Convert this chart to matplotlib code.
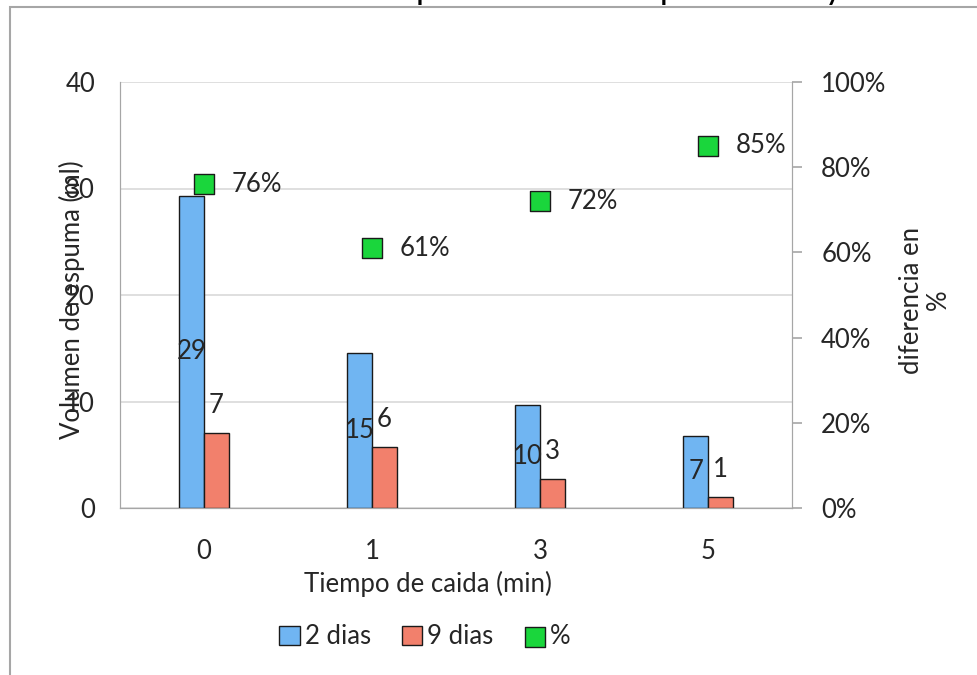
import matplotlib
matplotlib.use("Agg")
import matplotlib.pyplot as plt
from matplotlib.patches import Rectangle
from matplotlib.ticker import FuncFormatter

plt.rcParams['font.family'] = ['Lato', 'DejaVu Sans']

# datos del ensayo de espuma
tiempos = ['0', '1', '3', '5']
vol_2dias = [29.3, 14.6, 9.7, 6.8]
vol_9dias = [7.0, 5.7, 2.7, 1.0]
diferencia = [0.76, 0.61, 0.72, 0.85]

c_azul = '#70b5f2'
c_rojo = '#f2806c'
c_verde = '#1ad63c'
txt = '#262626'
fs = 18.5

W, H = 977, 675
fig = plt.figure(figsize=(W / 100, H / 100), dpi=100)
ax = fig.add_axes([120 / W, (H - 508) / H, 672 / W, 426 / H])
ax2 = ax.twinx()

# marco del grafico
fig.add_artist(Rectangle((10 / W, -0.1), 1.2, (H - 7) / H + 0.1, transform=fig.transFigure,
                         fill=False, ec='#a6a6a6', lw=1.5))
fig.text(862 / W, 1 + 1.5 / H, 'Variación del volumen de espuma en el tiempo de ensayo',
         ha='right', va='baseline', fontsize=25, color='black')

x = list(range(len(tiempos)))
bw = 0.146
b1 = ax.bar([i - bw / 2 for i in x], vol_2dias, bw, color=c_azul, edgecolor='#1a1a1a', lw=1, label='2 dias', zorder=3)
b2 = ax.bar([i + bw / 2 for i in x], vol_9dias, bw, color=c_rojo, edgecolor='#1a1a1a', lw=1, label='9 dias', zorder=3)

for r, v in zip(b1, vol_2dias):
    ax.text(r.get_x() + r.get_width() / 2, v / 2, '%.0f' % v, ha='center', va='center',
            fontsize=fs, color=txt, zorder=5)
for r, v in zip(b2, vol_9dias):
    ax.annotate('%.0f' % v, (r.get_x() + r.get_width() / 2, v), xytext=(0, 20), textcoords='offset points',
                ha='center', va='center', fontsize=fs, color=txt, zorder=5)

ax.set_ylim(0, 40)
ax.set_xlim(-0.5, len(tiempos) - 0.5)
ax.set_yticks([0, 10, 20, 30, 40])
ax.set_xticks(x)
ax.set_xticklabels(tiempos)
ax.grid(axis='y', color='#d9d9d9', lw=1.2, zorder=0)
ax.set_axisbelow(True)
ax.tick_params(axis='x', length=0, pad=22, labelsize=fs, labelcolor=txt)
ax.tick_params(axis='y', length=0, pad=18, labelsize=fs, labelcolor=txt)
for s in ['top']:
    ax.spines[s].set_visible(False)
    ax2.spines[s].set_visible(False)
for s in ['left', 'bottom', 'right']:
    ax.spines[s].set_color('#a6a6a6')
    ax2.spines[s].set_color('#a6a6a6')

ax2.scatter(x, diferencia, marker='s', s=200, color=c_verde, edgecolor='#1a1a1a', lw=1,
            label='%', zorder=4)
for i, d in zip(x, diferencia):
    ax2.annotate('%.0f%%' % (d * 100), (i, d), xytext=(20, 0), textcoords='offset points',
                 ha='left', va='center', fontsize=fs, color=txt)
ax2.set_ylim(0, 1)
ax2.set_yticks([0, 0.2, 0.4, 0.6, 0.8, 1.0])
ax2.yaxis.set_major_formatter(FuncFormatter(lambda v, p: '%.0f%%' % (v * 100)))
ax2.tick_params(axis='y', length=7, width=1.2, color='#a6a6a6', pad=14, labelsize=fs, labelcolor=txt)

fig.text(72 / W, 1 - 300 / H, 'Volumen de espuma (ml)', rotation=90, ha='center', va='center',
         fontsize=fs, color=txt)
fig.text(925 / W, 1 - 300 / H, 'diferencia en\n%', rotation=90, ha='center', va='center',
         fontsize=fs, color=txt, linespacing=1.1)
fig.text(428 / W, 1 - 584 / H, 'Tiempo de caida (min)', ha='center', va='center',
         fontsize=fs, color=txt)

h1, l1 = ax.get_legend_handles_labels()
h2, l2 = ax2.get_legend_handles_labels()
fig.legend(h1 + h2, l1 + l2, loc='center', bbox_to_anchor=(425 / W, 1 - 637 / H), ncol=3,
           frameon=False, fontsize=fs, handlelength=0.8, handleheight=0.8, handletextpad=0.2,
           columnspacing=1.2, labelcolor=txt)

fig.savefig('out.png', dpi=100)
